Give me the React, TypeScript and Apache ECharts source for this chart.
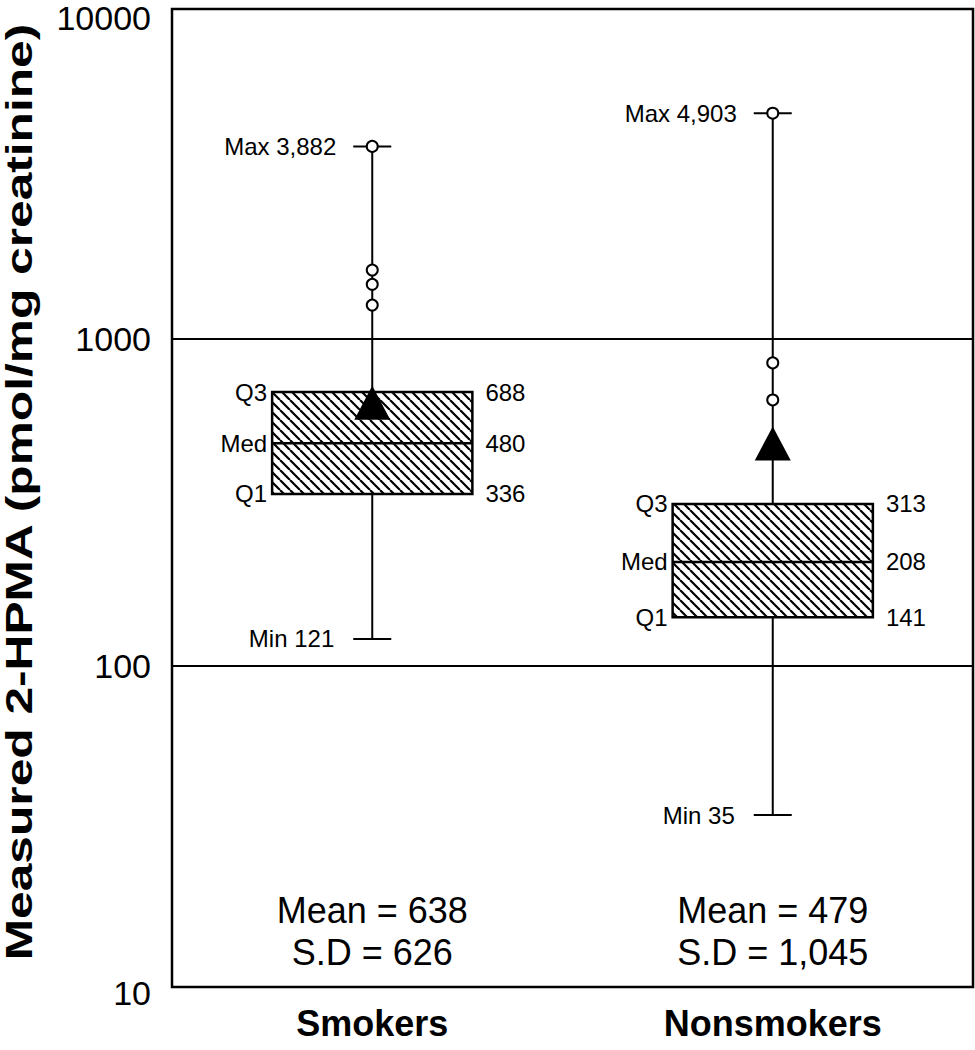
import React, { useEffect, useRef } from "react";
import * as echarts from "echarts";

// ---------- data ----------
const categories = ["Smokers", "Nonsmokers"];
const minValues = [121, 35];
const q1Values = [336, 141];
const medianValues = [480, 208];
const q3Values = [688, 313];
const maxValues = [3882, 4903];
const meanValues = [638, 479];
const sdValues = [626, 1045];
const outliersSmokers = [1625, 1470, 1270];
const outliersNonsmokers = [845, 651];
const yAxisMin = 10;
const yAxisMax = 10000;
const gridLineValues = [100, 1000];
const yTitle = "Measured 2-HPMA (pmol/mg creatinine)";

const FONT = '"Liberation Sans", Arial, Helvetica, sans-serif';
const fmt = (v: number) => v.toLocaleString("en-US");

function makeHatch() {
  const s = 10;
  const c = document.createElement("canvas");
  c.width = s;
  c.height = s;
  const ctx = c.getContext("2d")!;
  ctx.fillStyle = "#fff";
  ctx.fillRect(0, 0, s, s);
  ctx.strokeStyle = "#000";
  ctx.lineWidth = 2.2;
  ctx.beginPath();
  for (let k = -1; k <= 1; k++) {
    ctx.moveTo(k * s, 0);
    ctx.lineTo(k * s + s, s);
  }
  ctx.stroke();
  return c;
}

export default function App() {
  const ref = useRef<HTMLDivElement>(null);

  useEffect(() => {
    if (!ref.current) return;
    const chart = echarts.init(ref.current, null, { renderer: "svg" });
    const hatch = makeHatch();
    const pattern: any = { image: hatch, repeat: "repeat", imageWidth: 10, imageHeight: 10 };

    const boxData = categories.map((_, i) => [
      i,
      minValues[i],
      q1Values[i],
      medianValues[i],
      q3Values[i],
      maxValues[i],
      meanValues[i],
      sdValues[i],
    ]);

    const outlierData: number[][] = [];
    outliersSmokers.forEach((v) => outlierData.push([0, v]));
    outliersNonsmokers.forEach((v) => outlierData.push([1, v]));
    maxValues.forEach((v, i) => outlierData.push([i, v]));

    const meanData = meanValues.map((v, i) => [i, v]);

    const line = { stroke: "#000", lineWidth: 2 };
    const labelFont = { fontSize: 24, fontFamily: FONT, fill: "#000" };

    const renderItem = (params: any, api: any) => {
      const i = api.value(0);
      const [cx, yMin] = api.coord([i, api.value(1)]);
      const yQ1 = api.coord([i, api.value(2)])[1];
      const yMed = api.coord([i, api.value(3)])[1];
      const yQ3 = api.coord([i, api.value(4)])[1];
      const yMax = api.coord([i, api.value(5)])[1];
      const band = api.size([1, 0])[0];
      const half = band * 0.25;
      const cap = 19;
      const cs = params.coordSys;
      const bottom = cs.y + cs.height;
      return {
        type: "group",
        children: [
          { type: "line", shape: { x1: cx, y1: yMin, x2: cx, y2: yQ1 }, style: line },
          { type: "line", shape: { x1: cx, y1: yQ3, x2: cx, y2: yMax }, style: line },
          { type: "line", shape: { x1: cx - cap, y1: yMin, x2: cx + cap, y2: yMin }, style: line },
          { type: "line", shape: { x1: cx - cap, y1: yMax, x2: cx + cap, y2: yMax }, style: line },
          {
            type: "rect",
            shape: { x: cx - half, y: yQ3, width: half * 2, height: yQ1 - yQ3 },
            style: { fill: pattern, stroke: "#000", lineWidth: 2.5 },
          },
          { type: "line", shape: { x1: cx - half, y1: yMed, x2: cx + half, y2: yMed }, style: { stroke: "#000", lineWidth: 2.5 } },
          { type: "text", style: { text: "Q3", x: cx - half - 5, y: yQ3, align: "right", verticalAlign: "middle", ...labelFont } },
          { type: "text", style: { text: "Med", x: cx - half - 5, y: yMed, align: "right", verticalAlign: "middle", ...labelFont } },
          { type: "text", style: { text: "Q1", x: cx - half - 5, y: yQ1, align: "right", verticalAlign: "middle", ...labelFont } },
          { type: "text", style: { text: fmt(api.value(4)), x: cx + half + 13, y: yQ3, align: "left", verticalAlign: "middle", ...labelFont } },
          { type: "text", style: { text: fmt(api.value(3)), x: cx + half + 13, y: yMed, align: "left", verticalAlign: "middle", ...labelFont } },
          { type: "text", style: { text: fmt(api.value(2)), x: cx + half + 13, y: yQ1, align: "left", verticalAlign: "middle", ...labelFont } },
          { type: "text", style: { text: "Max " + fmt(api.value(5)), x: cx - cap - 17, y: yMax, align: "right", verticalAlign: "middle", ...labelFont } },
          { type: "text", style: { text: "Min " + fmt(api.value(1)), x: cx - cap - 19, y: yMin, align: "right", verticalAlign: "middle", ...labelFont } },
          { type: "text", style: { text: "Mean = " + fmt(api.value(6)), x: cx, y: bottom - 83, align: "center", verticalAlign: "middle", fontSize: 36, fontFamily: FONT, fill: "#000" } },
          { type: "text", style: { text: "S.D = " + fmt(api.value(7)), x: cx, y: bottom - 41, align: "center", verticalAlign: "middle", fontSize: 36, fontFamily: FONT, fill: "#000" } },
        ],
      };
    };

    chart.setOption({
      animation: false,
      backgroundColor: "#fff",
      grid: { left: 172, right: 2, top: 12, bottom: 57, containLabel: false, outerBoundsMode: "none" },
      xAxis: {
        type: "category",
        data: categories,
        boundaryGap: true,
        axisLine: { show: false },
        axisTick: { show: false },
        splitLine: { show: false },
        axisLabel: { fontSize: 36, fontWeight: "bold", fontFamily: FONT, color: "#000", margin: 12, lineHeight: 36 },
      },
      yAxis: {
        type: "log",
        logBase: 10,
        min: yAxisMin,
        max: yAxisMax,
        axisLine: { show: false },
        axisTick: { show: false },
        splitLine: { show: false },
        axisLabel: {
          fontSize: 34,
          lineHeight: 24,
          fontFamily: FONT,
          color: "#000",
          margin: 21,
          formatter: (v: number) => {
            const s = String(Math.round(v));
            return Math.round(v) === yAxisMax ? "{top|" + s + "}" : s;
          },
          rich: {
            top: { fontSize: 34, lineHeight: 24, fontFamily: FONT, color: "#000", padding: [12, 0, 0, 0] },
          },
        },
      },
      graphic: [
        {
          type: "rect",
          shape: { x: 172, y: 9, width: 801, height: 978 },
          style: { fill: "none", stroke: "#000", lineWidth: 2.5 },
          z: 100,
          silent: true,
        },
        {
          type: "text",
          x: 20,
          y: 492,
          rotation: Math.PI / 2,
          scaleX: 1.38,
          style: {
            text: yTitle,
            fontSize: 36,
            fontWeight: "bold",
            fontFamily: FONT,
            fill: "#000",
            align: "center",
            verticalAlign: "middle",
          },
        },
      ],
      series: [
        {
          type: "custom",
          renderItem,
          data: boxData,
          z: 2,
          encode: { x: 0, y: [1, 2, 3, 4, 5] },
          markLine: {
            silent: true,
            symbol: "none",
            label: { show: false },
            lineStyle: { color: "#000", width: 2, type: "solid" },
            data: gridLineValues.map((v) => ({ yAxis: v })),
          },
        },
        {
          type: "scatter",
          data: outlierData,
          symbol: "circle",
          symbolSize: 11,
          itemStyle: { color: "#fff", borderColor: "#000", borderWidth: 2, opacity: 1 },
          z: 4,
        },
        {
          type: "scatter",
          data: meanData,
          symbol: "triangle",
          symbolSize: [36, 34],
          itemStyle: { color: "#000", opacity: 1 },
          z: 5,
        },
      ],
    });
    return () => chart.dispose();
  }, []);

  return (
    <div
      ref={ref}
      style={{ position: "fixed", left: 0, top: 0, width: 975, height: 1050, background: "#fff" }}
    />
  );
}
